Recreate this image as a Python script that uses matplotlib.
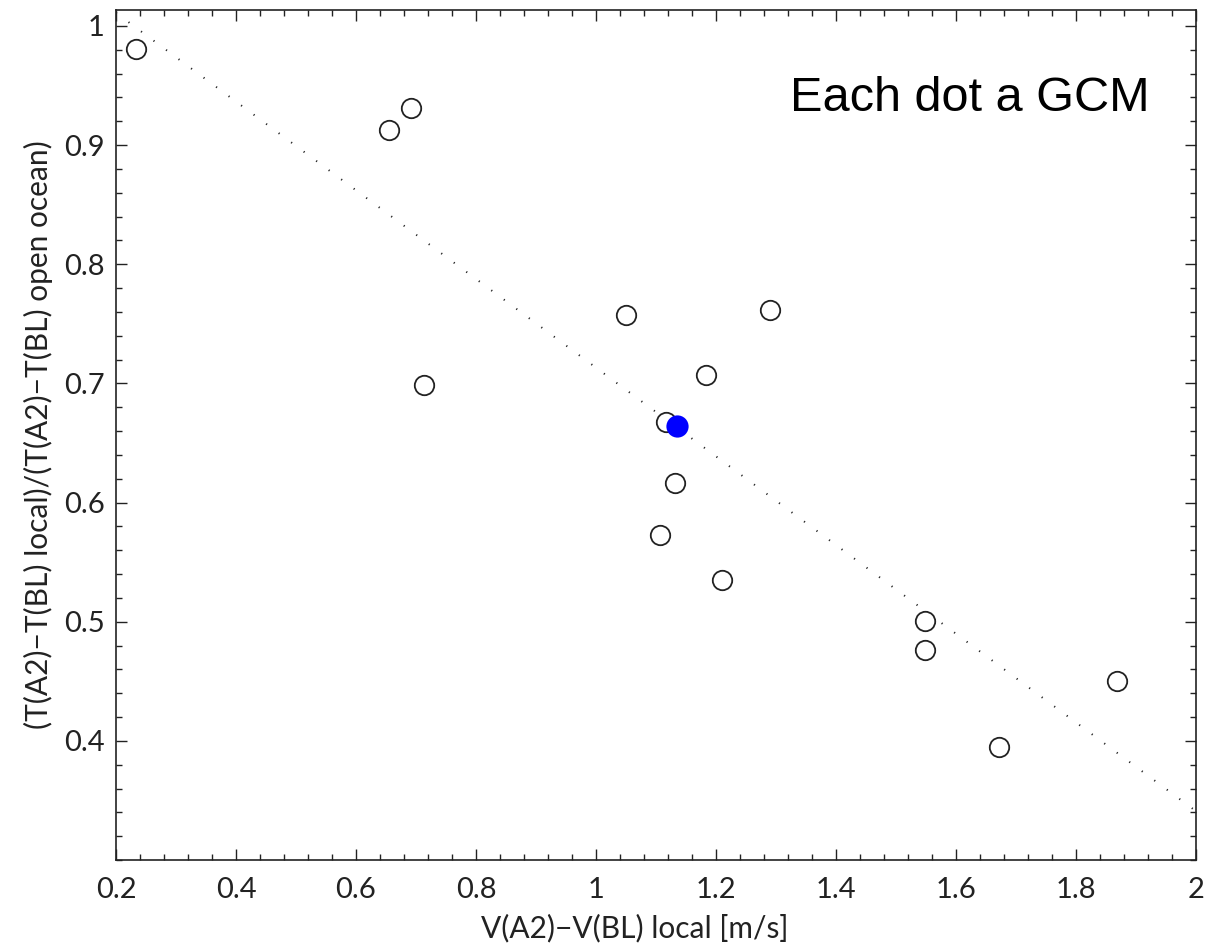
import matplotlib
matplotlib.use('Agg')
import matplotlib.pyplot as plt
from matplotlib.ticker import MultipleLocator

# GCM values
model_v = [0.233, 0.655, 0.692, 0.713, 1.050, 1.117, 1.132, 1.107,
           1.183, 1.210, 1.290, 1.548, 1.548, 1.672, 1.868]
model_ratio = [0.981, 0.913, 0.931, 0.699, 0.757, 0.668, 0.616, 0.573,
               0.707, 0.535, 0.762, 0.501, 0.476, 0.395, 0.450]

# highlighted model (blue dot)
hl_v = [1.135]
hl_ratio = [0.664]

# dotted regression line endpoints
fit_x = [0.2, 2.0]
fit_y = [1.011, 0.341]

xticks = [0.2, 0.4, 0.6, 0.8, 1, 1.2, 1.4, 1.6, 1.8, 2]
xticklabels = ['0.2', '0.4', '0.6', '0.8', '1', '1.2', '1.4', '1.6', '1.8', '2']
yticks = [0.4, 0.5, 0.6, 0.7, 0.8, 0.9, 1]
yticklabels = ['0.4', '0.5', '0.6', '0.7', '0.8', '0.9', '1']

plt.rcParams['font.family'] = ['Lato', 'DejaVu Sans']

fig = plt.figure(figsize=(12.05, 9.46), dpi=100)
ax = fig.add_axes([116 / 1205, 1 - 860 / 946, 1080 / 1205, 850 / 946])

ax.plot(fit_x, fit_y, color='#222222', linewidth=1.4,
        linestyle=(0, (0.6, 7.4)), zorder=1)
ax.plot(model_v, model_ratio, 'o', markersize=14, markerfacecolor='white',
        markeredgecolor='#222222', markeredgewidth=1.3, zorder=2)
ax.plot(hl_v, hl_ratio, 'o', markersize=16, color='#0000ff',
        markeredgewidth=0, zorder=3)

ax.set_xlim(0.2, 2.0)
ax.set_ylim(0.3, 1.0134)
ax.set_xticks(xticks)
ax.set_xticklabels(xticklabels)
ax.set_yticks(yticks)
ax.set_yticklabels(yticklabels)
ax.xaxis.set_minor_locator(MultipleLocator(0.04))
ax.yaxis.set_minor_locator(MultipleLocator(0.02))

ax.tick_params(which='both', direction='in', top=True, right=True,
               width=1.0, color='#222222', labelsize=21, labelcolor='#222222')
ax.tick_params(which='major', length=8)
ax.tick_params(which='minor', length=4.3)
ax.tick_params(axis='x', which='major', pad=12)
ax.tick_params(axis='y', which='major', pad=8)
for sp in ax.spines.values():
    sp.set_linewidth(1.2)
    sp.set_color('#222222')

ax.set_xlabel('V(A2)\u2212V(BL) local [m/s]', fontsize=21.5, color='#222222')
ax.set_ylabel('(T(A2)\u2212T(BL) local)/(T(A2)\u2212T(BL) open ocean)',
              fontsize=21.5, color='#222222')
ax.xaxis.set_label_coords(0.48, -0.063)
ax.yaxis.set_label_coords(-0.058, 0.5)

ax.text(1.323, 0.929, 'Each dot a GCM', fontsize=35,
        family=['Liberation Sans', 'DejaVu Sans'], ha='left', va='baseline')

fig.savefig('out.png', dpi=100)
